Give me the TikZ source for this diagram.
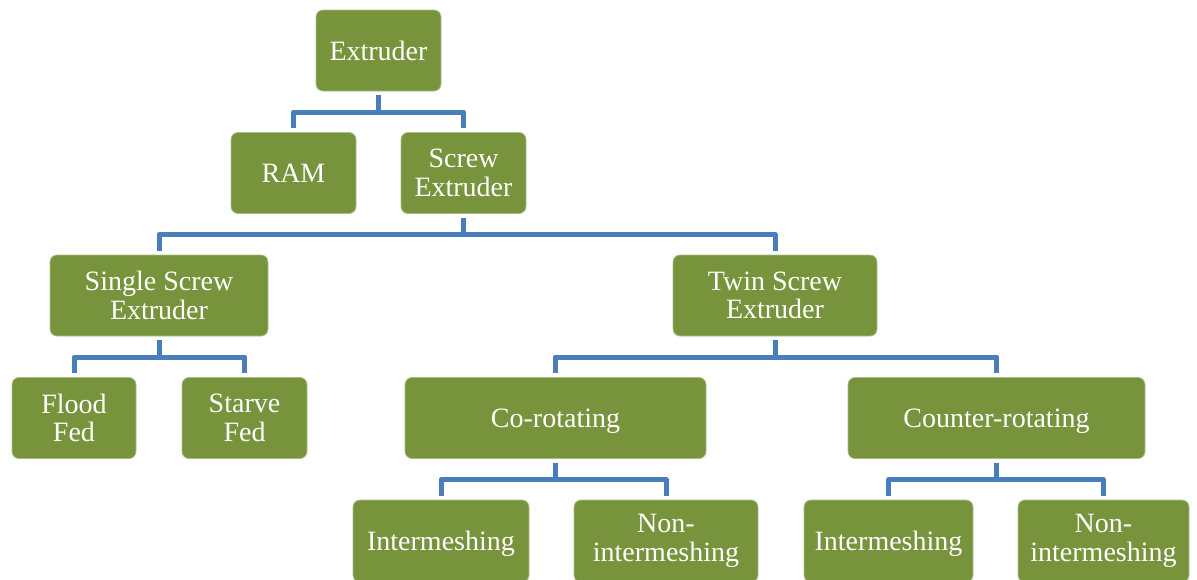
\documentclass[tikz,border=0pt]{standalone}
\usepackage{fontspec}
\setmainfont{Liberation Serif}
\definecolor{boxgreen}{HTML}{77933C}
\definecolor{boxedge}{HTML}{A9BE86}
\definecolor{connblue}{HTML}{4A7EBB}
\begin{document}
\begin{tikzpicture}[x=1pt,y=-1pt,
  box/.style={rectangle, rounded corners=7pt, fill=boxgreen, draw=boxedge, line width=0.8pt,
    text=white, align=center, inner sep=0pt, minimum height=81pt,
    font=\fontsize{28}{28.5}\selectfont},
  flat/.style={text depth=0pt},
  conn/.style={draw=connblue, line width=5pt, line join=round, line cap=butt}]
\useasboundingbox (0,0) rectangle (1197,579);
\node[box, minimum width=125pt] (ext) at (378.5,50.5) {Extruder};
\node[box, minimum width=125pt] (ram) at (293.5,173) {RAM};
\node[box, minimum width=125pt] (scr) at (463.5,173) {Screw\\Extruder};
\node[box, minimum width=218pt] (ssx) at (159,295.5) {Single Screw\\Extruder};
\node[box, minimum width=204pt] (tsx) at (775,295.5) {Twin Screw\\Extruder};
\node[box, minimum width=124pt] (ff) at (74,418) {Flood\\Fed};
\node[box, minimum width=125pt] (sf) at (244.5,418) {Starve\\Fed};
\node[box, flat, minimum width=301pt] (co) at (555.5,418) {Co-rotating};
\node[box, flat, minimum width=297pt] (cr) at (996.5,418) {Counter-rotating};
\node[box, flat, minimum width=176pt, minimum height=82pt] (i1) at (441,541) {Intermeshing};
\node[box, minimum width=184pt, minimum height=82pt] (n1) at (666,541) {Non-\\intermeshing};
\node[box, flat, minimum width=169pt, minimum height=82pt] (i2) at (888.5,541) {Intermeshing};
\node[box, minimum width=171pt, minimum height=82pt] (n2) at (1103.5,541) {Non-\\intermeshing};
% connectors
\draw[conn] ([yshift=-4pt]ext.south) -- ([yshift=-21pt]ext.south);
\draw[conn] ([yshift=4pt]ram.north) -- ++(0,-16) -| ([yshift=4pt]scr.north);
\draw[conn] ([yshift=-4pt]scr.south) -- ([yshift=-21.5pt]scr.south);
\draw[conn] ([yshift=4pt]ssx.north) -- ++(0,-16) -| ([yshift=4pt]tsx.north);
\draw[conn] ([yshift=-4pt]ssx.south) -- ([yshift=-21pt]ssx.south);
\draw[conn] ([yshift=4pt]ff.north) -- ++(0,-16) -| ([yshift=4pt]sf.north);
\draw[conn] ([yshift=-4pt]tsx.south) -- ([yshift=-21pt]tsx.south);
\draw[conn] ([yshift=4pt]co.north) -- ++(0,-16) -| ([yshift=4pt]cr.north);
\draw[conn] ([yshift=-4pt]co.south) -- ([yshift=-21.5pt]co.south);
\draw[conn] ([yshift=4pt]i1.north) -- ++(0,-16) -| ([yshift=4pt]n1.north);
\draw[conn] ([yshift=-4pt]cr.south) -- ([yshift=-21.5pt]cr.south);
\draw[conn] ([yshift=4pt]i2.north) -- ++(0,-16) -| ([yshift=4pt]n2.north);
\end{tikzpicture}
\end{document}
